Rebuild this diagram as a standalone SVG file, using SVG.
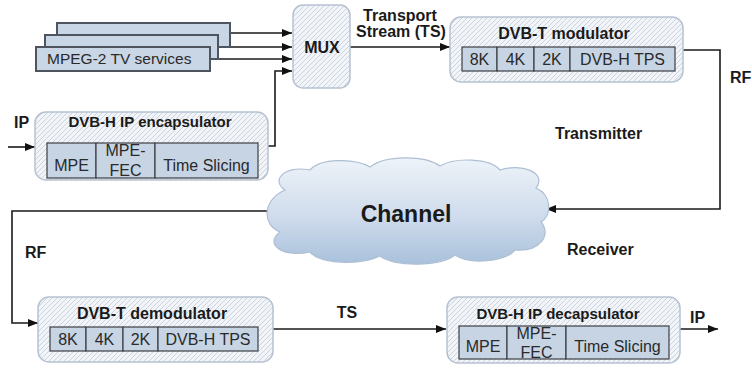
<svg xmlns="http://www.w3.org/2000/svg" width="752" height="368" viewBox="0 0 752 368">
  <defs>
    <pattern id="hatch" patternUnits="userSpaceOnUse" width="5" height="5">
      <rect width="5" height="5" fill="#f1f4f8"/>
      <path d="M-1,1 L1,-1 M0,5 L5,0 M4,6 L6,4" stroke="#c9ced7" stroke-width="0.9"/>
    </pattern>
    <linearGradient id="cloudFill" x1="0" y1="0" x2="0" y2="1">
      <stop offset="0" stop-color="#eef3f9"/>
      <stop offset="0.55" stop-color="#cfdcec"/>
      <stop offset="1" stop-color="#a9c1dc"/>
    </linearGradient>
    <marker id="arrow" viewBox="0 0 10 8" refX="10" refY="4" markerWidth="10" markerHeight="8" markerUnits="userSpaceOnUse" orient="auto">
      <path d="M0,0 L10,4 L0,8 Z" fill="#111"/>
    </marker>
    <style>
      .panel { fill: url(#hatch); stroke: #b7c2d1; stroke-width: 1.5; }
      .cell { fill: #c6d4e4; stroke: #3c3f44; stroke-width: 1.2; }
      .svc { fill: #c9d6e6; stroke: #4e555e; stroke-width: 2; }
      .wire { fill: none; stroke: #1a1a1a; stroke-width: 1.6; }
      .title { font-family: "Liberation Sans", Arial, sans-serif; font-weight: bold; font-size: 16px; fill: #1a1a1a; text-anchor: middle; }
      .lbl { font-family: "Liberation Sans", Arial, sans-serif; font-weight: bold; font-size: 16px; fill: #1a1a1a; }
      .in { font-family: "Liberation Sans", Arial, sans-serif; font-size: 16px; fill: #2a2a2a; text-anchor: middle; }
      .svctext { font-family: "Liberation Sans", Arial, sans-serif; font-size: 15.5px; fill: #2a2a2a; }
    </style>
  </defs>

  <rect width="752" height="368" fill="#ffffff"/>

  <!-- connectors -->
  <g id="connectors">
    <path class="wire" d="M230,33 L292,33" marker-end="url(#arrow)"/>
    <path class="wire" d="M218,47 L292,47" marker-end="url(#arrow)"/>
    <path class="wire" d="M210,59 L292,59" marker-end="url(#arrow)"/>
    <path class="wire" d="M268,146 L275,146 L275,71 L292,71" marker-end="url(#arrow)"/>
    <path class="wire" d="M8,147 L35,147" marker-end="url(#arrow)"/>
    <path class="wire" d="M350,47 L450,47" marker-end="url(#arrow)"/>
    <path class="wire" d="M683,50 L720,50 L720,209 L546,209" marker-end="url(#arrow)"/>
    <path class="wire" d="M268,211 L12,211 L12,323 L38,323" marker-end="url(#arrow)"/>
    <path class="wire" d="M273,329 L446,329" marker-end="url(#arrow)"/>
    <path class="wire" d="M680,329 L718,329" marker-end="url(#arrow)"/>
  </g>

  <!-- MPEG-2 TV services (stacked) -->
  <g id="mpeg2-services">
    <rect class="svc" x="57" y="23" width="173" height="24"/>
    <rect class="svc" x="45" y="35" width="173" height="24"/>
    <rect class="svc" x="36" y="47" width="174" height="24"/>
    <text class="svctext" x="47" y="64">MPEG-2 TV services</text>
  </g>

  <!-- MUX -->
  <g id="mux">
    <rect class="panel" x="293" y="5" width="57" height="83" rx="10"/>
    <text class="title" x="322" y="53">MUX</text>
  </g>

  <!-- DVB-T modulator -->
  <g id="dvbt-modulator">
    <rect class="panel" x="450" y="17" width="233" height="65" rx="11"/>
    <text class="title" x="564" y="39">DVB-T modulator</text>
    <rect class="cell" x="462" y="47" width="35" height="24"/>
    <rect class="cell" x="497" y="47" width="37" height="24"/>
    <rect class="cell" x="534" y="47" width="36" height="24"/>
    <rect class="cell" x="570" y="47" width="105" height="24"/>
    <text class="in" x="479.5" y="65">8K</text>
    <text class="in" x="515.5" y="65">4K</text>
    <text class="in" x="552" y="65">2K</text>
    <text class="in" x="622.5" y="65">DVB-H TPS</text>
  </g>

  <!-- DVB-H IP encapsulator -->
  <g id="ip-encapsulator">
    <rect class="panel" x="35" y="112" width="233" height="68" rx="11"/>
    <text class="title" x="150" y="127" style="font-size:15px">DVB-H IP encapsulator</text>
    <rect class="cell" x="47" y="143" width="49" height="35"/>
    <rect class="cell" x="96" y="143" width="59" height="35"/>
    <rect class="cell" x="155" y="143" width="103" height="35"/>
    <text class="in" x="71.5" y="171">MPE</text>
    <text class="in" x="125.5" y="156">MPE-</text>
    <text class="in" x="125.5" y="176">FEC</text>
    <text class="in" x="206.5" y="171">Time Slicing</text>
  </g>

  <!-- Channel -->
  <g id="channel">
    <path d="M285,190 C270,180 285,165 310,170 C320,158 355,158 370,167 C385,155 425,155 440,166 C455,157 490,158 500,170 C520,163 548,172 536,188 C552,195 552,215 541,222 C552,235 540,252 515,250 C505,262 470,265 455,255 C440,267 395,267 380,256 C360,266 320,264 310,252 C285,258 263,245 280,232 C262,225 262,200 285,190 Z" fill="url(#cloudFill)" stroke="#aebfd3" stroke-width="1.2"/>
    <text class="title" x="406" y="222" style="font-size:23px">Channel</text>
  </g>

  <!-- DVB-T demodulator -->
  <g id="dvbt-demodulator">
    <rect class="panel" x="38" y="297" width="235" height="65" rx="11"/>
    <text class="title" x="152" y="319">DVB-T demodulator</text>
    <rect class="cell" x="50" y="327" width="36" height="24"/>
    <rect class="cell" x="86" y="327" width="37" height="24"/>
    <rect class="cell" x="123" y="327" width="35" height="24"/>
    <rect class="cell" x="158" y="327" width="100" height="24"/>
    <text class="in" x="68" y="345">8K</text>
    <text class="in" x="104.5" y="345">4K</text>
    <text class="in" x="140.5" y="345">2K</text>
    <text class="in" x="208" y="345">DVB-H TPS</text>
  </g>

  <!-- DVB-H IP decapsulator -->
  <g id="ip-decapsulator">
    <rect class="panel" x="447" y="297" width="233" height="66" rx="11"/>
    <text class="title" x="558" y="319" style="font-size:15px">DVB-H IP decapsulator</text>
    <rect class="cell" x="459" y="326" width="48" height="33"/>
    <rect class="cell" x="507" y="326" width="59" height="33"/>
    <rect class="cell" x="566" y="326" width="103" height="33"/>
    <text class="in" x="483" y="352">MPE</text>
    <text class="in" x="536.5" y="339">MPE-</text>
    <text class="in" x="536.5" y="358">FEC</text>
    <text class="in" x="617.5" y="352">Time Slicing</text>
  </g>

  <!-- free labels -->
  <g id="labels">
    <text class="lbl" x="14" y="128">IP</text>
    <text class="lbl" x="400" y="21" text-anchor="middle">Transport</text>
    <text class="lbl" x="401" y="37" text-anchor="middle">Stream (TS)</text>
    <text class="lbl" x="730" y="83">RF</text>
    <text class="lbl" x="555" y="139">Transmitter</text>
    <text class="lbl" x="567" y="255">Receiver</text>
    <text class="lbl" x="25" y="258">RF</text>
    <text class="lbl" x="347" y="318" text-anchor="middle">TS</text>
    <text class="lbl" x="690" y="323">IP</text>
  </g>
</svg>
